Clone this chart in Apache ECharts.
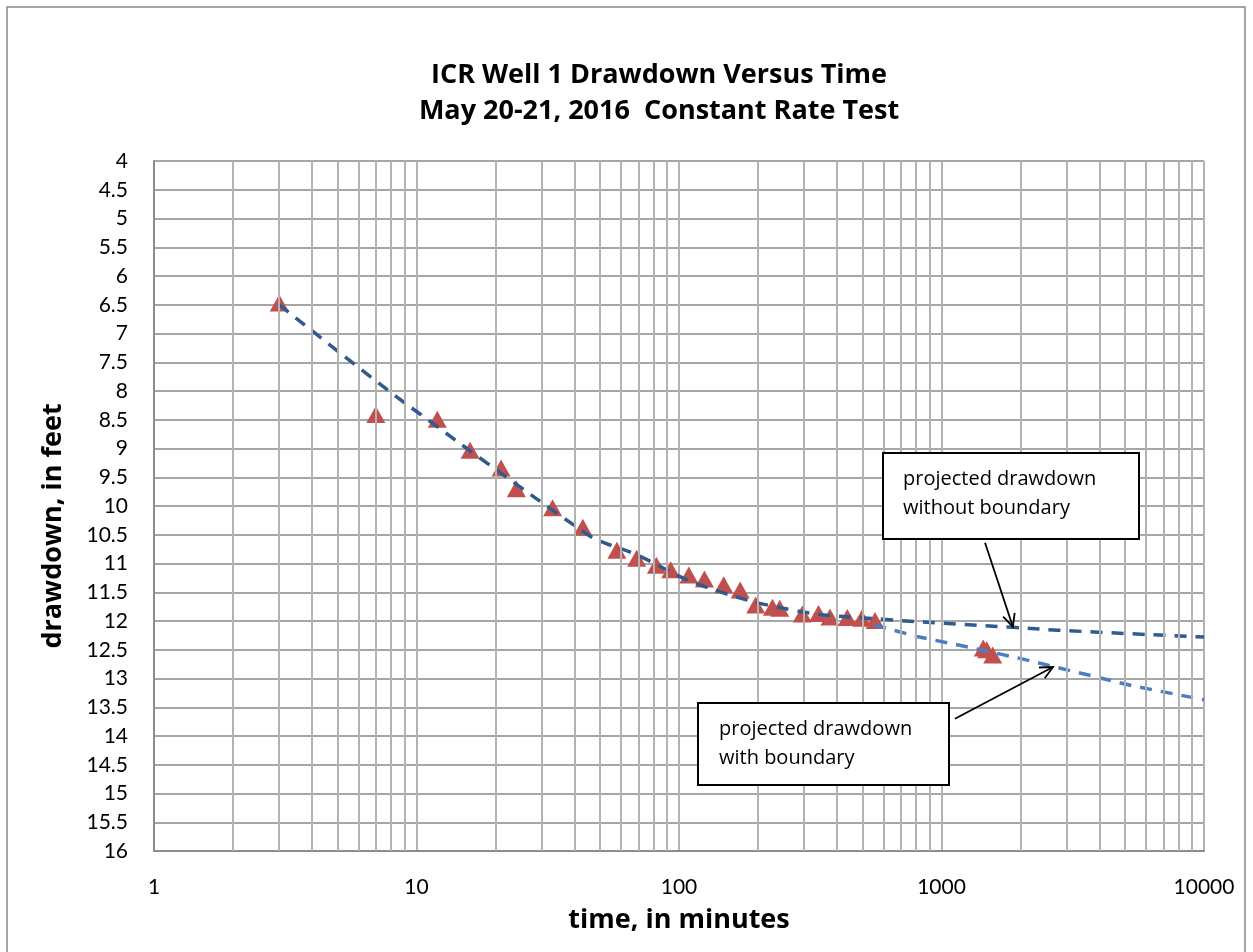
<!DOCTYPE html>
<html lang="en">
<head>
    <meta charset="UTF-8">
    <title>ICR Well 1 Drawdown Versus Time</title>
    <script src="https://cdn.jsdelivr.net/npm/echarts@6/dist/echarts.min.js"></script>
    <style>
        html, body { margin: 0; padding: 0; background: #fff; }
    </style>
</head>

<body>
<div id="main" style="width: 1253px;height:952px;"></div>
</body>

<script type="text/javascript">

        // measured drawdown: time (minutes) and drawdown (feet)
        var timeMin = [3, 7, 12, 16, 21, 24, 33, 43, 58, 69, 82, 93, 109, 125, 148, 171, 196, 227, 242, 295, 340, 376, 438, 497, 558, 1443, 1487, 1567];
        var drawdown = [6.47, 8.41, 8.49, 9.03, 9.34, 9.70, 10.03, 10.37, 10.77, 10.91, 11.03, 11.11, 11.20, 11.27, 11.37, 11.46, 11.72, 11.76, 11.78, 11.88, 11.87, 11.93, 11.94, 11.95, 11.99, 12.47, 12.50, 12.59];

        // projected drawdown without boundary
        var noBoundT = [3, 7.5, 12, 17.5, 46, 52, 69, 120, 270, 600, 1870, 2780, 10000];
        var noBoundS = [6.5, 7.93, 8.62, 9.17, 10.53, 10.64, 10.85, 11.37, 11.81, 11.97, 12.11, 12.16, 12.28];

        // projected drawdown with boundary
        var boundT = [555, 805, 1285, 1990, 2660, 5370, 10000];
        var boundS = [12.07, 12.27, 12.46, 12.65, 12.79, 13.13, 13.37];

        var minorTicks = [2, 3, 4, 5, 6, 7, 8, 9,
            20, 30, 40, 50, 60, 70, 80, 90,
            200, 300, 400, 500, 600, 700, 800, 900,
            2000, 3000, 4000, 5000, 6000, 7000, 8000, 9000];

        function pairs(xs, ys) {
            return xs.map(function (x, i) { return [x, ys[i]]; });
        }

        var myChart = echarts.init(document.getElementById('main'));

        var gridColor = '#b3b3b3';
        var labelFont = 'Lato, "Open Sans", sans-serif';
        var font = '"Open Sans", Lato, sans-serif';

        option = {
            backgroundColor: '#fff',
            animation: false,
            title: {
                text: 'ICR Well 1 Drawdown Versus Time\nMay 20-21, 2016  Constant Rate Test',
                left: 654,
                top: 52,
                textAlign: 'center',
                textStyle: {
                    fontFamily: font,
                    fontWeight: 'bold',
                    fontSize: 27,
                    lineHeight: 36,
                    color: '#000'
                }
            },
            grid: {
                left: 154,
                right: 49,
                top: 161,
                bottom: 101,
                containLabel: false
            },
            xAxis: {
                type: 'log',
                logBase: 10,
                min: 1,
                max: 10000,
                name: 'time, in minutes',
                nameLocation: 'middle',
                nameGap: 56,
                nameTextStyle: { fontFamily: font, fontWeight: 'bold', fontSize: 27, color: '#000' },
                axisLine: { lineStyle: { color: '#8c8c8c', width: 2 } },
                axisTick: { show: false },
                axisLabel: {
                    fontFamily: labelFont, fontSize: 21, color: '#000', margin: 26,
                    formatter: function (v) { return String(Math.round(v)); }
                },
                splitLine: { show: true, lineStyle: { color: gridColor, width: 2 } }
            },
            yAxis: {
                type: 'value',
                inverse: true,
                min: 4,
                max: 16,
                interval: 0.5,
                axisLine: { show: true, lineStyle: { color: '#8c8c8c', width: 2 } },
                axisTick: { show: false },
                axisLabel: { fontFamily: labelFont, fontSize: 21, color: '#000', margin: 26 },
                splitLine: { show: true, lineStyle: { color: '#a6a6a6', width: 2 } }
            },
            series: [
                {
                    // minor log grid lines
                    name: 'grid',
                    type: 'line',
                    data: [],
                    z: 1,
                    silent: true,
                    markLine: {
                        silent: true,
                        symbol: ['none', 'none'],
                        label: { show: false },
                        lineStyle: { color: gridColor, width: 2, type: 'solid' },
                        data: minorTicks.map(function (v) { return { xAxis: v }; })
                    }
                },
                {
                    name: 'drawdown',
                    type: 'scatter',
                    symbol: 'triangle',
                    symbolSize: [19, 17],
                    itemStyle: { color: '#c0504d', opacity: 1 },
                    z: 3,
                    data: pairs(timeMin, drawdown)
                },
                {
                    name: 'without boundary',
                    type: 'line',
                    smooth: 0.4,
                    showSymbol: false,
                    z: 4,
                    lineStyle: { color: '#2f5b8e', width: 3.5, type: [12, 9], cap: 'butt' },
                    data: pairs(noBoundT, noBoundS)
                },
                {
                    name: 'with boundary',
                    type: 'line',
                    smooth: false,
                    showSymbol: false,
                    z: 4,
                    lineStyle: { color: '#4a7ec0', width: 3.5, type: [12, 9], cap: 'butt' },
                    data: pairs(boundT, boundS)
                }
            ],
            graphic: [
                {
                    type: 'rect', id: 'frame', z: -10, silent: true,
                    shape: { x: 7, y: 7, width: 1238, height: 970 },
                    style: { fill: 'none', stroke: '#868686', lineWidth: 1.5 }
                },
                {
                    type: 'text', id: 'yname', z: 10,
                    x: 53, y: 526, rotation: Math.PI / 2,
                    style: {
                        text: 'drawdown, in feet',
                        font: 'bold 27px ' + font, fill: '#000',
                        align: 'center', verticalAlign: 'middle'
                    }
                },
                {
                    type: 'rect', id: 'box1', z: 50,
                    shape: { x: 883, y: 453, width: 256, height: 86 },
                    style: { fill: '#fff', stroke: '#000', lineWidth: 2 }
                },
                {
                    type: 'text', id: 'box1text', z: 51,
                    x: 903, y: 465,
                    style: {
                        text: 'projected drawdown\nwithout boundary',
                        font: '20px ' + font, fill: '#000', lineHeight: 29
                    }
                },
                {
                    type: 'rect', id: 'box2', z: 50,
                    shape: { x: 698, y: 703, width: 251, height: 82 },
                    style: { fill: '#fff', stroke: '#000', lineWidth: 2 }
                },
                {
                    type: 'text', id: 'box2text', z: 51,
                    x: 719, y: 715,
                    style: {
                        text: 'projected drawdown\nwith boundary',
                        font: '20px ' + font, fill: '#000', lineHeight: 29
                    }
                }
            ]
        };

        myChart.setOption(option);

        // callout arrows: tail and tip given in data units
        var arrows = [
            { id: 'arrow1', from: [1465, 10.64], to: [1870, 12.1] },
            { id: 'arrow2', from: [1125, 13.70], to: [2660, 12.8] }
        ];

        function arrowGraphic(a) {
            var p0 = myChart.convertToPixel({ gridIndex: 0 }, a.from);
            var p1 = myChart.convertToPixel({ gridIndex: 0 }, a.to);
            var ang = Math.atan2(p1[1] - p0[1], p1[0] - p0[0]);
            var len = 14, spread = 0.45;
            var h1 = [p1[0] - len * Math.cos(ang - spread), p1[1] - len * Math.sin(ang - spread)];
            var h2 = [p1[0] - len * Math.cos(ang + spread), p1[1] - len * Math.sin(ang + spread)];
            var style = { stroke: '#000', lineWidth: 1.8, fill: 'none' };
            return [
                { type: 'line', id: a.id + 'shaft', z: 52, shape: { x1: p0[0], y1: p0[1], x2: p1[0], y2: p1[1] }, style: style },
                { type: 'polyline', id: a.id + 'head', z: 52, shape: { points: [h1, p1, h2] }, style: style }
            ];
        }

        var extra = [];
        arrows.forEach(function (a) { extra = extra.concat(arrowGraphic(a)); });
        myChart.setOption({ graphic: extra });

</script>
</html>
